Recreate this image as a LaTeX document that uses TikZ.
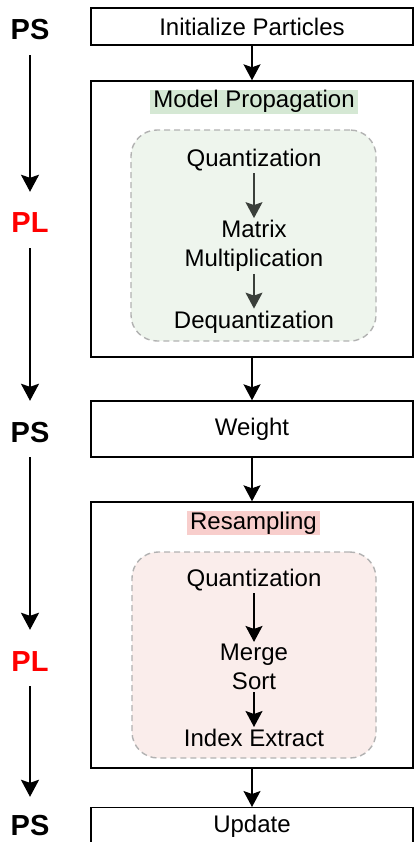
\documentclass[tikz,border=0pt]{standalone}
\usepackage{fontspec}
\setmainfont{Liberation Sans}
\usepackage{tikz}
\usetikzlibrary{positioning,calc,arrows.meta}

\definecolor{hdgreen}{HTML}{D5E8D4}
\definecolor{hdred}{HTML}{F8CECC}
\definecolor{ingreen}{HTML}{EEF5ED}
\definecolor{inred}{HTML}{FAEDEB}
\definecolor{plred}{HTML}{FF0000}
\definecolor{arrgray}{HTML}{3A3F3A}
\newcommand\boxfont{\fontsize{24}{29}\selectfont}
\newcommand\sidefont{\fontsize{29}{30}\selectfont\bfseries}

\begin{document}
\begin{tikzpicture}[
    x=1pt, y=-1pt,
    main_box/.style={draw, line width=1.4pt, minimum width=322pt, font=\boxfont},
    inner_box/.style={draw=gray!60, dashed, dash pattern=on 6pt off 4pt, line width=1.4pt, rounded corners=26pt},
    head_style/.style={font=\boxfont, inner xsep=3pt, inner ysep=1pt, text height=17pt, text depth=5pt},
    step_text/.style={font=\boxfont, align=center, inner sep=2pt},
    side_style/.style={font=\sidefont, inner sep=0pt, text height=20pt, text depth=0pt},
    arr/.style={-{Stealth[length=16pt,width=17pt,inset=3pt]}, line width=1.4pt},
    side_arr/.style={-{Stealth[length=17pt,width=18pt,inset=3pt]}, line width=2pt, shorten <=15pt, shorten >=21pt}
]
\useasboundingbox (0,0) rectangle (414,842);

% ===== MAIN FLOW =====
\node[main_box, minimum height=37pt] (init) at (252,26.5) {Initialize Particles};
\node[main_box, minimum height=276pt] (prop) at (252,219) {};
\node[main_box, minimum height=56pt] (weight) at (252,429) {Weight};
\node[main_box, minimum height=266pt] (resamp) at (252,635) {};
\node[main_box, minimum height=66pt, anchor=north] (update) at (252,807) {};
\node[font=\boxfont] (updtxt) at (252,826) {Update};

\draw[arr] (init) -- (prop);
\draw[arr] (prop) -- (weight);
\draw[arr] (weight) -- (resamp);
\draw[arr] (resamp) -- (update);

% ===== MODEL PROPAGATION =====
\node[head_style, fill=hdgreen] (prophead) at (254,102) {Model Propagation};
\node[inner_box, fill=ingreen, minimum width=245pt, minimum height=211pt] (propin) at (253.5,235.5) {};
\node[step_text] (quant1) at (254,160) {Quantization};
\node[step_text] (matmul) at (254,246) {Matrix\\Multiplication};
\node[step_text] (dequant) at (254,322) {Dequantization};
\draw[arr, arrgray] (quant1) -- (matmul);
\draw[arr, arrgray] (matmul) -- (dequant);

% ===== RESAMPLING =====
\node[head_style, fill=hdred] (reshead) at (253.5,523) {Resampling};
\node[inner_box, fill=inred, minimum width=244pt, minimum height=206pt] (resin) at (254,655) {};
\node[step_text] (quant2) at (254,580) {Quantization};
\node[step_text] (msort) at (254,667) {Merge\\Sort};
\node[step_text] (index) at (254,738) {Index Extract};
\draw[arr] (quant2) -- (msort);
\draw[arr] (msort) -- (index);

% ===== PS / PL COLUMN =====
\node[side_style] (ps1) at (30,30) {PS};
\node[side_style, text=plred] (pl1) at (30,223) {PL};
\node[side_style] (ps2) at (30,432) {PS};
\node[side_style, text=plred] (pl2) at (30,661) {PL};
\node[side_style] (ps3) at (30,825) {PS};

\draw[side_arr] (ps1) -- (pl1);
\draw[side_arr] (pl1) -- (ps2);
\draw[side_arr] (ps2) -- (pl2);
\draw[side_arr, shorten >=18pt] (pl2) -- (ps3);

\end{tikzpicture}
\end{document}
